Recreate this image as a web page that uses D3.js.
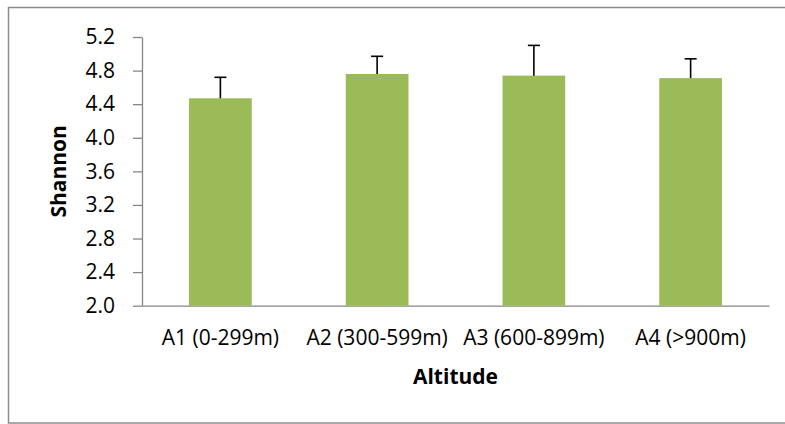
<!DOCTYPE html>
<html>
<head>
<meta charset="utf-8">
<script src="https://cdn.jsdelivr.net/npm/d3@7"></script>
<style>
  body { margin: 0; background: #fff; }
  svg { display: block; font-family: "Open Sans", sans-serif; }
</style>
</head>
<body>
<div class="chart"></div>
<script>
// values
const categories = ["A1 (0-299m)", "A2 (300-599m)", "A3 (600-899m)", "A4 (>900m)"];
const means = [4.47, 4.76, 4.74, 4.71];
const errors = [0.25, 0.21, 0.36, 0.23];
const yTicks = [2.0, 2.4, 2.8, 3.2, 3.6, 4.0, 4.4, 4.8, 5.2];

var width = 785, height = 424;

var svg = d3.select(".chart")
    .append("svg")
    .attr("width", width)
    .attr("height", height);

// outer frame (runs off the right / bottom edge like the source)
svg.append("rect")
    .attr("x", 8.5)
    .attr("y", 7.5)
    .attr("width", 790)
    .attr("height", 415.5)
    .attr("fill", "none")
    .attr("stroke", "#8c8c8c")
    .attr("stroke-width", 1.5);

var plot = {left: 142, right: 769, top: 37, bottom: 305.7};

var xScale = d3.scaleBand()
    .domain(categories)
    .range([plot.left, plot.right])
    .paddingInner(0.6)
    .paddingOuter(0.3);

var yScale = d3.scaleLinear()
    .domain([2.0, 5.2])
    .range([plot.bottom, plot.top]);

// y axis
var yAxis = svg.append("g")
    .attr("transform", `translate(${plot.left},0)`)
    .call(d3.axisLeft(yScale)
        .tickValues(yTicks)
        .tickFormat(d3.format(".1f"))
        .tickSize(9)
        .tickPadding(18)
        .tickSizeOuter(0));
yAxis.select(".domain").attr("stroke", "#868686").attr("stroke-width", 1.3);
yAxis.selectAll(".tick line").attr("stroke", "#868686").attr("stroke-width", 1.3);
yAxis.selectAll(".tick text")
    .attr("fill", "#000")
    .style("font-size", "21px")
    .style("font-family", "Open Sans, sans-serif");

// x axis
var xAxis = svg.append("g")
    .attr("transform", `translate(0,${plot.bottom})`)
    .call(d3.axisBottom(xScale).tickSize(0).tickPadding(24).tickSizeOuter(0));
xAxis.select(".domain").attr("stroke", "#868686").attr("stroke-width", 1.3);
xAxis.selectAll(".tick text")
    .attr("fill", "#000")
    .attr("dy", "0.71em")
    .style("font-size", "21px")
    .style("font-family", "Open Sans, sans-serif");

// bars
svg.selectAll("rect.bar")
    .data(means)
    .enter()
    .append("rect")
    .attr("class", "bar")
    .attr("x", function(d, i) { return xScale(categories[i]); })
    .attr("y", function(d) { return yScale(d); })
    .attr("width", xScale.bandwidth())
    .attr("height", function(d) { return yScale(2.0) - yScale(d); })
    .attr("fill", "#9bbb59");

// error bars (upper only)
var err = svg.selectAll("g.err")
    .data(means)
    .enter()
    .append("g")
    .attr("class", "err")
    .attr("stroke", "#000")
    .attr("stroke-width", 1.6);

err.append("line")
    .attr("x1", function(d, i) { return xScale(categories[i]) + xScale.bandwidth() / 2; })
    .attr("x2", function(d, i) { return xScale(categories[i]) + xScale.bandwidth() / 2; })
    .attr("y1", function(d) { return yScale(d); })
    .attr("y2", function(d, i) { return yScale(d + errors[i]); });

err.append("line")
    .attr("x1", function(d, i) { return xScale(categories[i]) + xScale.bandwidth() / 2 - 6; })
    .attr("x2", function(d, i) { return xScale(categories[i]) + xScale.bandwidth() / 2 + 6; })
    .attr("y1", function(d, i) { return yScale(d + errors[i]); })
    .attr("y2", function(d, i) { return yScale(d + errors[i]); });

// axis titles
svg.append("text")
    .attr("transform", `translate(66,${(plot.top + plot.bottom) / 2}) rotate(-90)`)
    .attr("text-anchor", "middle")
    .style("font-size", "21px")
    .style("font-weight", "bold")
    .text("Shannon");

svg.append("text")
    .attr("x", (plot.left + plot.right) / 2)
    .attr("y", 384)
    .attr("text-anchor", "middle")
    .style("font-size", "21px")
    .style("font-weight", "bold")
    .text("Altitude");
</script>
</body>
</html>
